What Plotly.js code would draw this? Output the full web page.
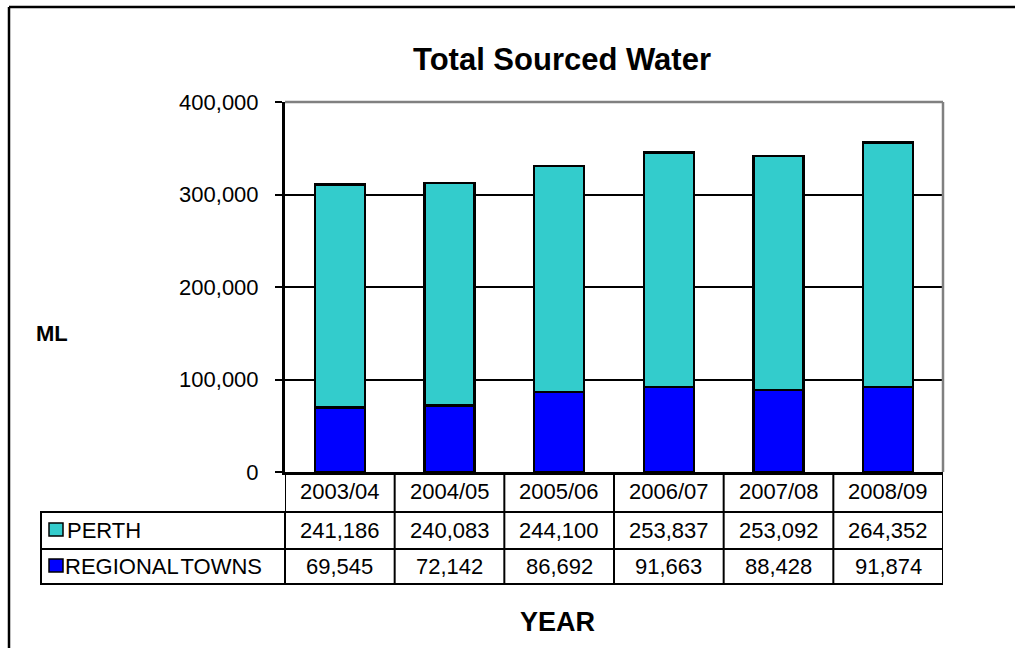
<!DOCTYPE html>
<html>
<head>
<meta charset="utf-8">
<script src="https://cdn.plot.ly/plotly-3.0.1.min.js"></script>
<style>
  html, body { margin: 0; padding: 0; background: #ffffff; }
  #chart { width: 1015px; height: 648px; }
</style>
</head>
<body>
<div id="chart"></div>
<script>
// Sourced water by financial year (ML)
const years = ['2003/04', '2004/05', '2005/06', '2006/07', '2007/08', '2008/09'];
const perth = [241186, 240083, 244100, 253837, 253092, 264352];
const regionalTowns = [69545, 72142, 86692, 91663, 88428, 91874];
const seriesNames = ['PERTH', 'REGIONAL TOWNS'];
const yTicks = [0, 100000, 200000, 300000, 400000];

const FONT = 'Liberation Sans, Arial, sans-serif';
const CYAN = '#33CCCC';
const BLUE = '#0000FF';

// plot-area geometry in pixels, used to express table rows in paper units
const W = 1015, H = 648;
const PL = 285, PR = 943, PT = 102, PB = 472;
const pw = PR - PL, ph = PB - PT;
const px = x => (x - PL) / pw;
const py = y => (PB - y) / ph;

const fmt = v => v.toLocaleString('en-US');

const traces = [
  {
    type: 'bar', name: seriesNames[1], x: years, y: regionalTowns,
    marker: { color: BLUE, line: { color: '#000000', width: 2.5 } },
    hoverinfo: 'x+y'
  },
  {
    type: 'bar', name: seriesNames[0], x: years, y: perth,
    marker: { color: CYAN, line: { color: '#000000', width: 2.5 } },
    hoverinfo: 'x+y'
  }
];

// data table rows below the axis
const rowY = [py(472), py(512), py(549), py(584)];
const rowMid = [py(492), py(530.5), py(566.5)];
const legendLeft = px(41);

const shapes = [];
const annotations = [];

// horizontal table rules
rowY.forEach((y, i) => {
  if (i === 0) return;
  shapes.push({ type: 'line', xref: 'x', yref: 'paper', x0: -0.5, x1: years.length - 0.5,
    y0: y, y1: y, line: { color: '#000000', width: 2 } });
});
// vertical table rules
for (let i = 0; i <= years.length; i++) {
  shapes.push({ type: 'line', xref: 'x', yref: 'paper', x0: i - 0.5, x1: i - 0.5,
    y0: rowY[0], y1: rowY[3], line: { color: '#000000', width: 2 } });
}
// legend cells on the left of the value rows
shapes.push({ type: 'rect', xref: 'paper', yref: 'paper', x0: legendLeft, x1: 0,
  y0: rowY[3], y1: rowY[1], line: { color: '#000000', width: 2 } });
shapes.push({ type: 'line', xref: 'paper', yref: 'paper', x0: legendLeft, x1: 0,
  y0: rowY[2], y1: rowY[2], line: { color: '#000000', width: 2 } });
// legend keys
shapes.push({ type: 'rect', xref: 'paper', yref: 'paper', x0: px(49), x1: px(63),
  y0: py(536), y1: py(523), fillcolor: CYAN, line: { color: '#000000', width: 1.5 } });
shapes.push({ type: 'rect', xref: 'paper', yref: 'paper', x0: px(49), x1: px(63),
  y0: py(572), y1: py(559), fillcolor: BLUE, line: { color: '#000000', width: 1.5 } });

// grey frame on top and right of the plot area
shapes.push({ type: 'line', xref: 'paper', yref: 'paper', x0: 0, x1: 1, y0: 1, y1: 1,
  line: { color: '#808080', width: 2.5 } });
shapes.push({ type: 'line', xref: 'paper', yref: 'paper', x0: 1, x1: 1, y0: 0, y1: 1,
  line: { color: '#808080', width: 2.5 } });

// outer chart border (left and top edges)
shapes.push({ type: 'line', xref: 'paper', yref: 'paper', x0: px(9), x1: px(9),
  y0: py(7), y1: py(700), line: { color: '#000000', width: 2.5 } });
shapes.push({ type: 'line', xref: 'paper', yref: 'paper', x0: px(9), x1: px(1100),
  y0: py(7), y1: py(7), line: { color: '#000000', width: 2.5 } });

// table text
years.forEach((yr, i) => {
  annotations.push({ xref: 'x', yref: 'paper', x: yr, y: rowMid[0], text: yr,
    showarrow: false, xanchor: 'center', yanchor: 'middle', font: { family: FONT, size: 22, color: '#000' } });
  annotations.push({ xref: 'x', yref: 'paper', x: yr, y: rowMid[1], text: fmt(perth[i]),
    showarrow: false, xanchor: 'center', yanchor: 'middle', font: { family: FONT, size: 22, color: '#000' } });
  annotations.push({ xref: 'x', yref: 'paper', x: yr, y: rowMid[2], text: fmt(regionalTowns[i]),
    showarrow: false, xanchor: 'center', yanchor: 'middle', font: { family: FONT, size: 22, color: '#000' } });
});
annotations.push({ xref: 'paper', yref: 'paper', x: px(65), y: rowMid[1], text: seriesNames[0],
  showarrow: false, xanchor: 'left', yanchor: 'middle', font: { family: FONT, size: 22, color: '#000' } });
annotations.push({ xref: 'paper', yref: 'paper', x: px(63), y: rowMid[2], text: 'REGIONAL\u200aTOWNS',
  showarrow: false, xanchor: 'left', yanchor: 'middle', font: { family: FONT, size: 22, color: '#000' } });

// axis titles
annotations.push({ xref: 'paper', yref: 'paper', x: px(52), y: py(333), text: '<b>ML</b>',
  showarrow: false, xanchor: 'center', yanchor: 'middle', font: { family: FONT, size: 22, color: '#000' } });
annotations.push({ xref: 'paper', yref: 'paper', x: px(557), y: py(622), text: '<b>YEAR</b>',
  showarrow: false, xanchor: 'center', yanchor: 'middle', font: { family: FONT, size: 27, color: '#000' } });

const layout = {
  width: W, height: H,
  margin: { l: PL, r: W - PR, t: PT, b: H - PB, pad: 0 },
  paper_bgcolor: '#ffffff', plot_bgcolor: '#ffffff',
  showlegend: false,
  barmode: 'stack',
  bargap: 0.544,
  title: {
    text: '<b>Total Sourced Water</b>',
    xref: 'container', yref: 'container', x: 562 / W, y: 1 - 59 / H,
    xanchor: 'center', yanchor: 'middle',
    font: { family: FONT, size: 31, color: '#000' }
  },
  xaxis: {
    type: 'category', categoryorder: 'array', categoryarray: years,
    range: [-0.5, years.length - 0.5],
    showticklabels: false, ticks: '', showgrid: false, zeroline: false,
    showline: true, linecolor: '#000000', linewidth: 3
  },
  yaxis: {
    range: [0, 400000], tickvals: yTicks, tickformat: ',d',
    ticks: 'outside', ticklen: 7, tickwidth: 2, tickcolor: '#000000',
    ticklabelstandoff: 12,
    tickfont: { family: FONT, size: 22, color: '#000' },
    showgrid: true, gridcolor: '#000000', gridwidth: 2,
    zeroline: false, showline: true, linecolor: '#000000', linewidth: 3
  },
  shapes: shapes,
  annotations: annotations,
  font: { family: FONT, color: '#000' }
};

Plotly.newPlot('chart', traces, layout, { displayModeBar: false, staticPlot: true });
</script>
</body>
</html>
